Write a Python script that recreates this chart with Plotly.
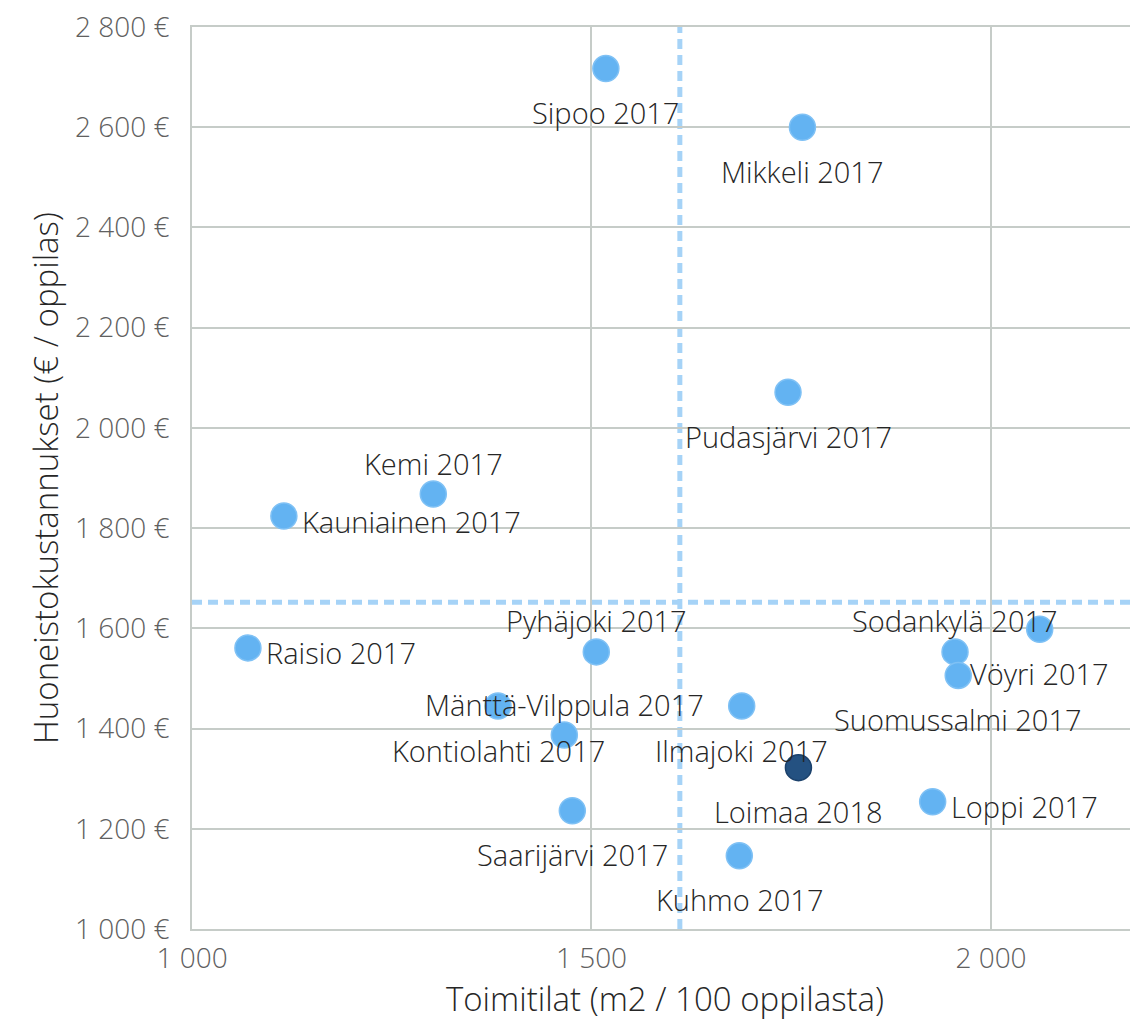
import numpy as np
import plotly.graph_objects as go

# Kunnat: toimitilat (m2 / 100 oppilasta) ja huoneistokustannukset (€ / oppilas)
names = ["Sipoo 2017", "Mikkeli 2017", "Pudasjärvi 2017", "Kemi 2017",
         "Kauniainen 2017", "Raisio 2017", "Pyhäjoki 2017", "Vöyri 2017",
         "Sodankylä 2017", "Suomussalmi 2017", "Kontiolahti 2017",
         "Ilmajoki 2017", "Mänttä-Vilppula 2017", "Loimaa 2018",
         "Saarijärvi 2017", "Loppi 2017", "Kuhmo 2017"]
tilat = [1518, 1764, 1746, 1302, 1115, 1070, 1506, 2061, 1955, 1959,
         1383, 1688, 1466, 1759, 1476, 1927, 1685]
kustannus = [2717, 2600, 2071, 1868, 1824, 1561, 1553, 1598, 1553, 1506,
             1445, 1445, 1387, 1322, 1236, 1254, 1146]
highlight = "Loimaa 2018"

x_ticks = [1000, 1500, 2000]
x_tick_labels = ["1 000", "1 500", "2 000"]
y_ticks = [1000, 1200, 1400, 1600, 1800, 2000, 2200, 2400, 2600, 2800]
y_tick_labels = ["1 000 €", "1 200 €", "1 400 €", "1 600 €", "1 800 €",
                 "2 000 €", "2 200 €", "2 400 €", "2 600 €", "2 800 €"]

# label placement per point (style only)
label_pos = ["below", "below", "below", "above", "right", "right", "above",
             "below", "above", "below", "below", "below", "above", "below",
             "below", "right", "below"]

FONT = "Open Sans"
GRID = "#C6CCC8"
BLUE = "#63B3F2"
DARK = "#245181"

avg_x = float(np.mean(tilat))
avg_y = float(np.mean(kustannus))

colors = [DARK if n == highlight else BLUE for n in names]
lines = ["#1B416B" if n == highlight else "#7FC1F5" for n in names]

fig = go.Figure()
fig.add_trace(go.Scatter(
    x=tilat, y=kustannus, mode="markers", text=names,
    marker=dict(size=26, color=colors, line=dict(color=lines, width=1.5)),
    hovertemplate="%{text}<br>%{x}<br>%{y} €<extra></extra>",
    cliponaxis=False,
))

for n, x, y, p in zip(names, tilat, kustannus, label_pos):
    if p == "below":
        kw = dict(xanchor="center", xshift=0, yshift=-44)
    elif p == "above":
        kw = dict(xanchor="center", xshift=0, yshift=31)
    else:
        kw = dict(xanchor="left", xshift=16, yshift=-5)
    fig.add_annotation(x=x, y=y, text=n, showarrow=False,
                       font=dict(family=FONT, size=29, color="#262626",
                                 weight=300), **kw)

dash = dict(color="#A6D3F7", width=5, dash="10px,6px")
fig.add_shape(type="line", xref="x", yref="paper", x0=avg_x, x1=avg_x,
              y0=0, y1=1, line=dash, layer="between")
fig.add_shape(type="line", xref="paper", yref="y", x0=0, x1=1,
              y0=avg_y, y1=avg_y, line=dash, layer="between")

# page body has an 8px margin, so the figure is made 8px smaller
fig.update_layout(
    width=1130, height=1018,
    margin=dict(l=184, r=0, t=19, b=97),
    plot_bgcolor="white", paper_bgcolor="white",
    showlegend=False,
    font=dict(family=FONT, color="#262626", weight=300),
)
fig.update_xaxes(
    range=[1000, 2184], tickvals=x_ticks, ticktext=x_tick_labels,
    showgrid=True, gridcolor=GRID, gridwidth=2, zeroline=False,
    showline=True, linecolor=GRID, linewidth=2, mirror=True,
    tickfont=dict(size=28, color="#606060", weight=300), ticklabelstandoff=3,
    ticklabeloverflow="allow",
    title=dict(text="Toimitilat (m2 / 100 oppilasta)",
               font=dict(size=33, color="#262626", weight=300), standoff=6),
    automargin=False,
)
fig.update_yaxes(
    range=[1000, 2800], tickvals=y_ticks, ticktext=y_tick_labels,
    showgrid=True, gridcolor=GRID, gridwidth=2, zeroline=False,
    showline=True, linecolor=GRID, linewidth=2,
    tickfont=dict(size=28, color="#606060", weight=300), ticklabelstandoff=15,
    ticklabeloverflow="allow",
    title=dict(text="Huoneistokustannukset (€ / oppilas)",
               font=dict(size=33, color="#262626", weight=300), standoff=6),
    automargin=False,
)

fig.write_html("out.html")
